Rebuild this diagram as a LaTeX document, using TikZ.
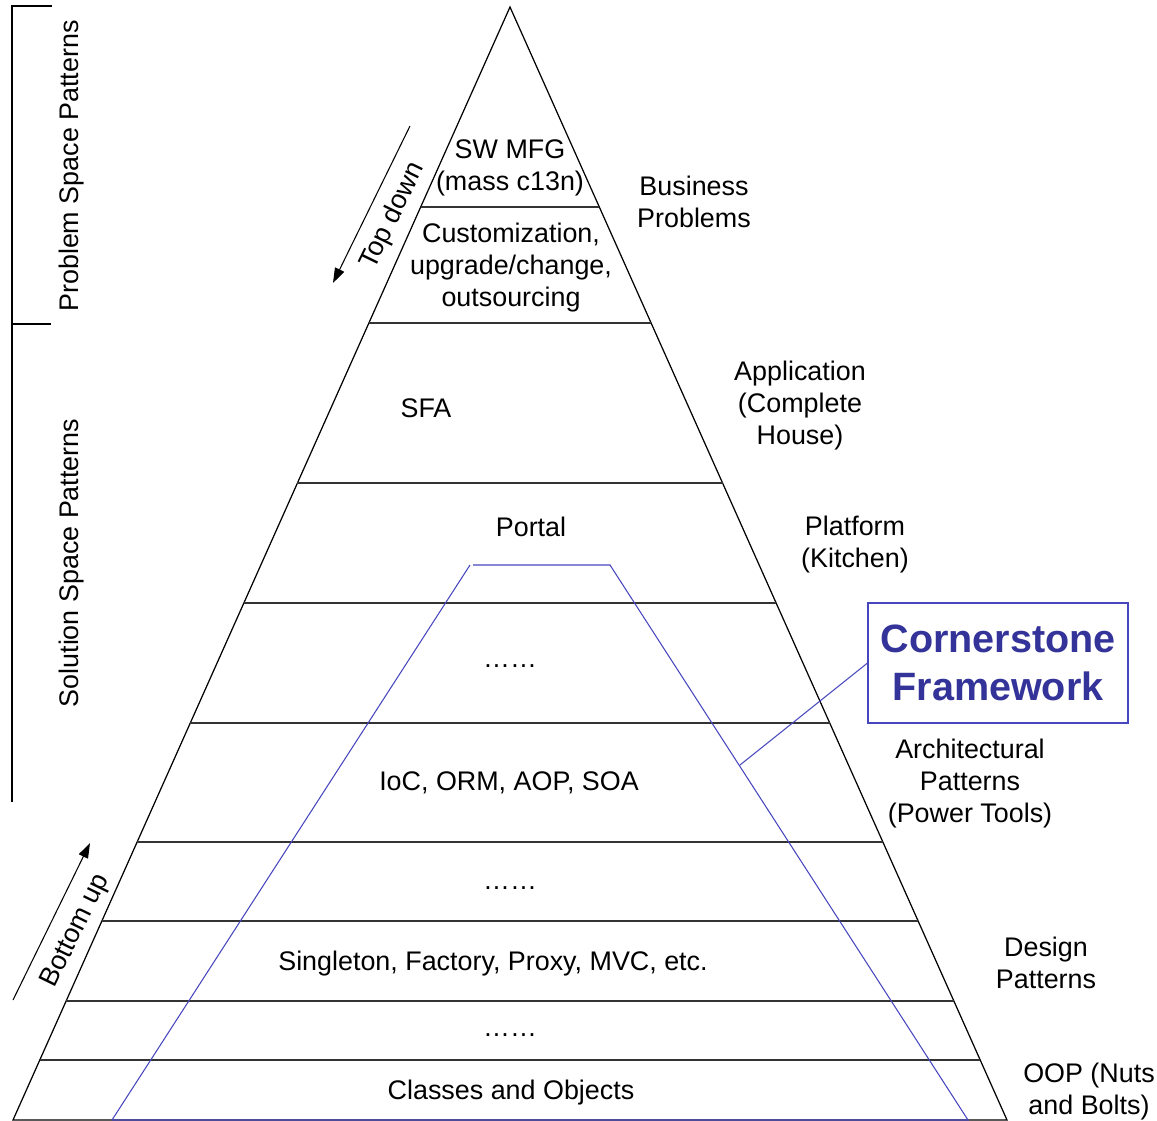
\documentclass[tikz,border=0pt]{standalone}
\usepackage{fontspec}
\setmainfont{Liberation Sans}
\usepackage{tikz}
\usetikzlibrary{arrows.meta, calc, positioning}
\definecolor{csblue}{RGB}{51,51,153}
\definecolor{csline}{RGB}{70,70,190}
\newcommand{\lblfont}{\fontsize{15.3}{18.2}\selectfont}
\newcommand{\csfont}{\fontsize{22.5}{27.3}\selectfont\bfseries}
\tikzstyle{pyr} = [line width=0.7pt, draw=black]
\tikzstyle{level} = [line width=0.6pt, draw=black!80]
\tikzstyle{lbl} = [align=center, font=\lblfont, inner sep=0pt]
\tikzstyle{frame} = [draw=csline, line width=0.6pt]
\tikzstyle{callout} = [rectangle, draw=csline, line width=0.6pt, minimum width=52mm, minimum height=24mm, align=center, text=csblue, font=\csfont]
\tikzstyle{arrow} = [line width=0.6pt, -{Triangle[length=3mm,width=2mm]}]

\begin{document}
\begin{tikzpicture}[x=0.2mm, y=-0.2mm]
	\useasboundingbox (0,0) rectangle (1157,1121);
	% pyramid
	\coordinate (apex) at (510,7);
	\coordinate (bl) at (13,1120);
	\coordinate (br) at (1007,1120);
	\draw [pyr] (bl) -- (apex) -- (br) -- cycle;
	\foreach \y in {207,323,483,603,723,842,921,1001,1060} {
		\pgfmathsetmacro\f{(\y-7)/1113}
		\draw [level] ($(apex)!\f!(bl)$) -- ($(apex)!\f!(br)$);
	}
	% framework outline
	\coordinate (fwbl) at (112,1120);
	\coordinate (fwtl) at (470,565);
	\coordinate (fwtr) at (610,565);
	\coordinate (fwbr) at (968,1120);
	\draw [frame] (fwbl) -- (fwtl);
	\draw [frame] (473,565) -- (fwtr) -- (fwbr) -- (fwbl);
	% layer texts
	\node (MFG) [lbl] at (510,168) {SW MFG\\(mass c13n)};
	\node (Custom) [lbl] at (511,268) {Customization,\\upgrade/change,\\outsourcing};
	\node (SFA) [lbl] at (426,408) {SFA};
	\node (Portal) [lbl] at (531,527) {Portal};
	\node (DotsA) [lbl] at (510,666) {\ldots\ldots};
	\node (IoC) [lbl] at (509,783) {IoC, ORM, AOP, SOA};
	\node (DotsB) [lbl] at (510,888) {\ldots\ldots};
	\node (Singleton) [lbl] at (493,964) {Singleton, Factory, Proxy, MVC, etc.};
	\node (DotsC) [lbl] at (510,1035) {\ldots\ldots};
	\node (Classes) [lbl] at (511,1093) {Classes and Objects};
	% side texts
	\node (Business) [lbl] at (694,202) {Business\\Problems};
	\node (Application) [lbl] at (800,406) {Application\\(Complete\\House)};
	\node (Platform) [lbl] at (855,545) {Platform\\(Kitchen)};
	\node (Architectural) [lbl] at (970,784) {Architectural\\Patterns\\(Power Tools)};
	\node (Design) [lbl] at (1046,963) {Design\\Patterns};
	\node (OOP) [lbl] at (1089,1092) {OOP (Nuts\\and Bolts)};
	% callout
	\node (Cornerstone) [callout] at (998,663) {Cornerstone\\Framework};
	\coordinate (CornerstoneEnd) at (740,765);
	\draw [frame] (Cornerstone.west) -- (CornerstoneEnd);
	% left bracket
	\draw [pyr] (52,6) -- (12,6) -- (12,802);
	\draw [pyr] (12,324) -- (51,324);
	\node (Problem) [lbl, rotate=90] at (72,166) {Problem Space Patterns};
	\node (Solution) [lbl, rotate=90] at (72,563) {Solution Space Patterns};
	% directions
	\coordinate (TopStart) at (410,126);
	\coordinate (TopEnd) at (333,283);
	\draw [arrow] (TopStart) -- (TopEnd);
	\node (TopDown) [lbl, rotate=64] at (393,216) {Top down};
	\coordinate (BottomStart) at (13,1000);
	\coordinate (BottomEnd) at (90,843);
	\draw [arrow] (BottomStart) -- (BottomEnd);
	\node (BottomUp) [lbl, rotate=64] at (76,931) {Bottom up};
\end{tikzpicture}
\end{document}
